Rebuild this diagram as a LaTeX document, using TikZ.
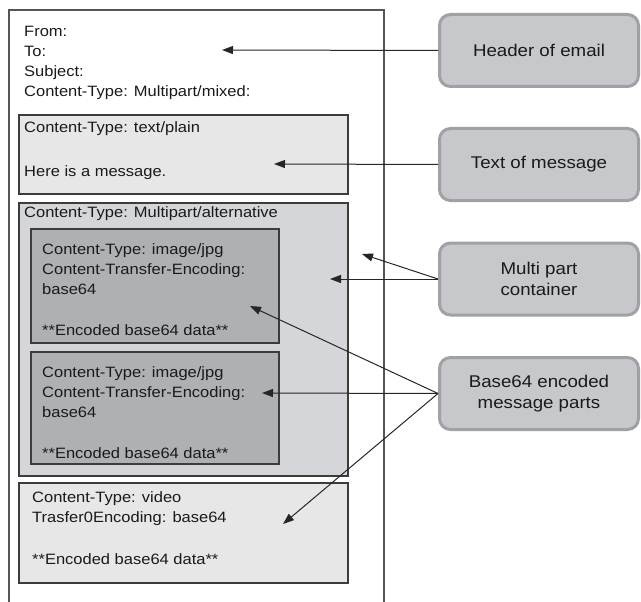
\documentclass[tikz,border=0pt]{standalone}
\usepackage{fontspec}
\setmainfont{Liberation Sans}[FakeStretch=1.1]
\usetikzlibrary{arrows.meta}
\definecolor{frame}{HTML}{555555}
\definecolor{boxline}{HTML}{3C3C3C}
\definecolor{plainfill}{HTML}{E7E7E7}
\definecolor{multifill}{HTML}{D5D6DA}
\definecolor{innerfill}{HTML}{AFB0B4}
\definecolor{tagfill}{HTML}{C7C8CC}
\definecolor{tagedge}{HTML}{A0A1A5}
\definecolor{txtcol}{HTML}{1A1A1A}
\definecolor{arrcol}{HTML}{262626}
\begin{document}
\begin{tikzpicture}[x=1pt,y=-1pt,
  part/.style={draw=boxline, line width=1.1pt},
  lines/.style={anchor=north west, inner sep=0pt, align=left, text=txtcol,
    font=\fontsize{15}{20}\selectfont},
  one/.style={anchor=base west, inner sep=0pt, text=txtcol,
    font=\fontsize{15}{20}\selectfont},
  tag/.style={draw=tagedge, line width=3pt, fill=tagfill, rounded corners=11pt,
    minimum width=199pt, minimum height=72pt, align=center, text=txtcol,
    font=\fontsize{17}{21}\selectfont},
  arr/.style={draw=arrcol, line width=1pt, -{Triangle[length=11pt,width=8pt]}}]
\useasboundingbox (0,0) rectangle (641,602);

% outer email frame
\draw[frame, line width=1.3pt] (9,602) -- (9,10) -- (384,10) -- (384,602);

% header
\node[lines] (hdr) at (24,22) {\strut From:\\\strut To:\\\strut Subject:\\\strut Content-Type: Multipart/mixed:};

% text/plain part
\draw[part, fill=plainfill] (19,115) rectangle (348,194);
\node[one] (pl1) at (24,133) {Content-Type: text/plain};
\node[one] (pl2) at (24,176) {Here is a message.};

% multipart/alternative
\draw[part, fill=multifill] (19,203) rectangle (348,476);
\node[one] (ma1) at (24,218) {Content-Type: Multipart/alternative};

\draw[part, fill=innerfill] (31,229) rectangle (279,343);
\node[lines] (im1) at (42,240) {\strut Content-Type: image/jpg\\\strut Content-Transfer-Encoding:\\\strut base64};
\node[one] (im1e) at (42,335) {**Encoded base64 data**};

\draw[part, fill=innerfill] (31,352) rectangle (279,464);
\node[lines] (im2) at (42,363) {\strut Content-Type: image/jpg\\\strut Content-Transfer-Encoding:\\\strut base64};
\node[one] (im2e) at (42,458) {**Encoded base64 data**};

% video part
\draw[part, fill=plainfill] (19,483) rectangle (348,583);
\node[lines] (vid) at (32,488) {\strut Content-Type: video\\\strut Trasfer0Encoding: base64};
\node[one] (vide) at (32,564) {**Encoded base64 data**};

% labels
\node[tag] (thdr) at (539,50.5) {Header of email};
\node[tag] (ttxt) at (539,164.5) {Text of message};
\node[tag] (tmpc) at (539,279) {Multi part\\container};
\node[tag] (tb64) at (539,393.5) {Base64 encoded\\message parts};

% arrow targets
\coordinate (a1) at (222,50);
\coordinate (a2) at (274,164);
\coordinate (a3) at (362,254);
\coordinate (a4) at (330,279);
\coordinate (a5) at (250,306);
\coordinate (a6) at (262,393);
\coordinate (a7) at (283,524);

\draw[arr] (thdr.west) -- (a1);
\draw[arr] (ttxt.west) -- (a2);
\draw[arr] (tmpc.west) -- (a3);
\draw[arr] (tmpc.west) -- (a4);
\draw[arr] (tb64.west) -- (a5);
\draw[arr] (tb64.west) -- (a6);
\draw[arr] (tb64.west) -- (a7);
\end{tikzpicture}
\end{document}
